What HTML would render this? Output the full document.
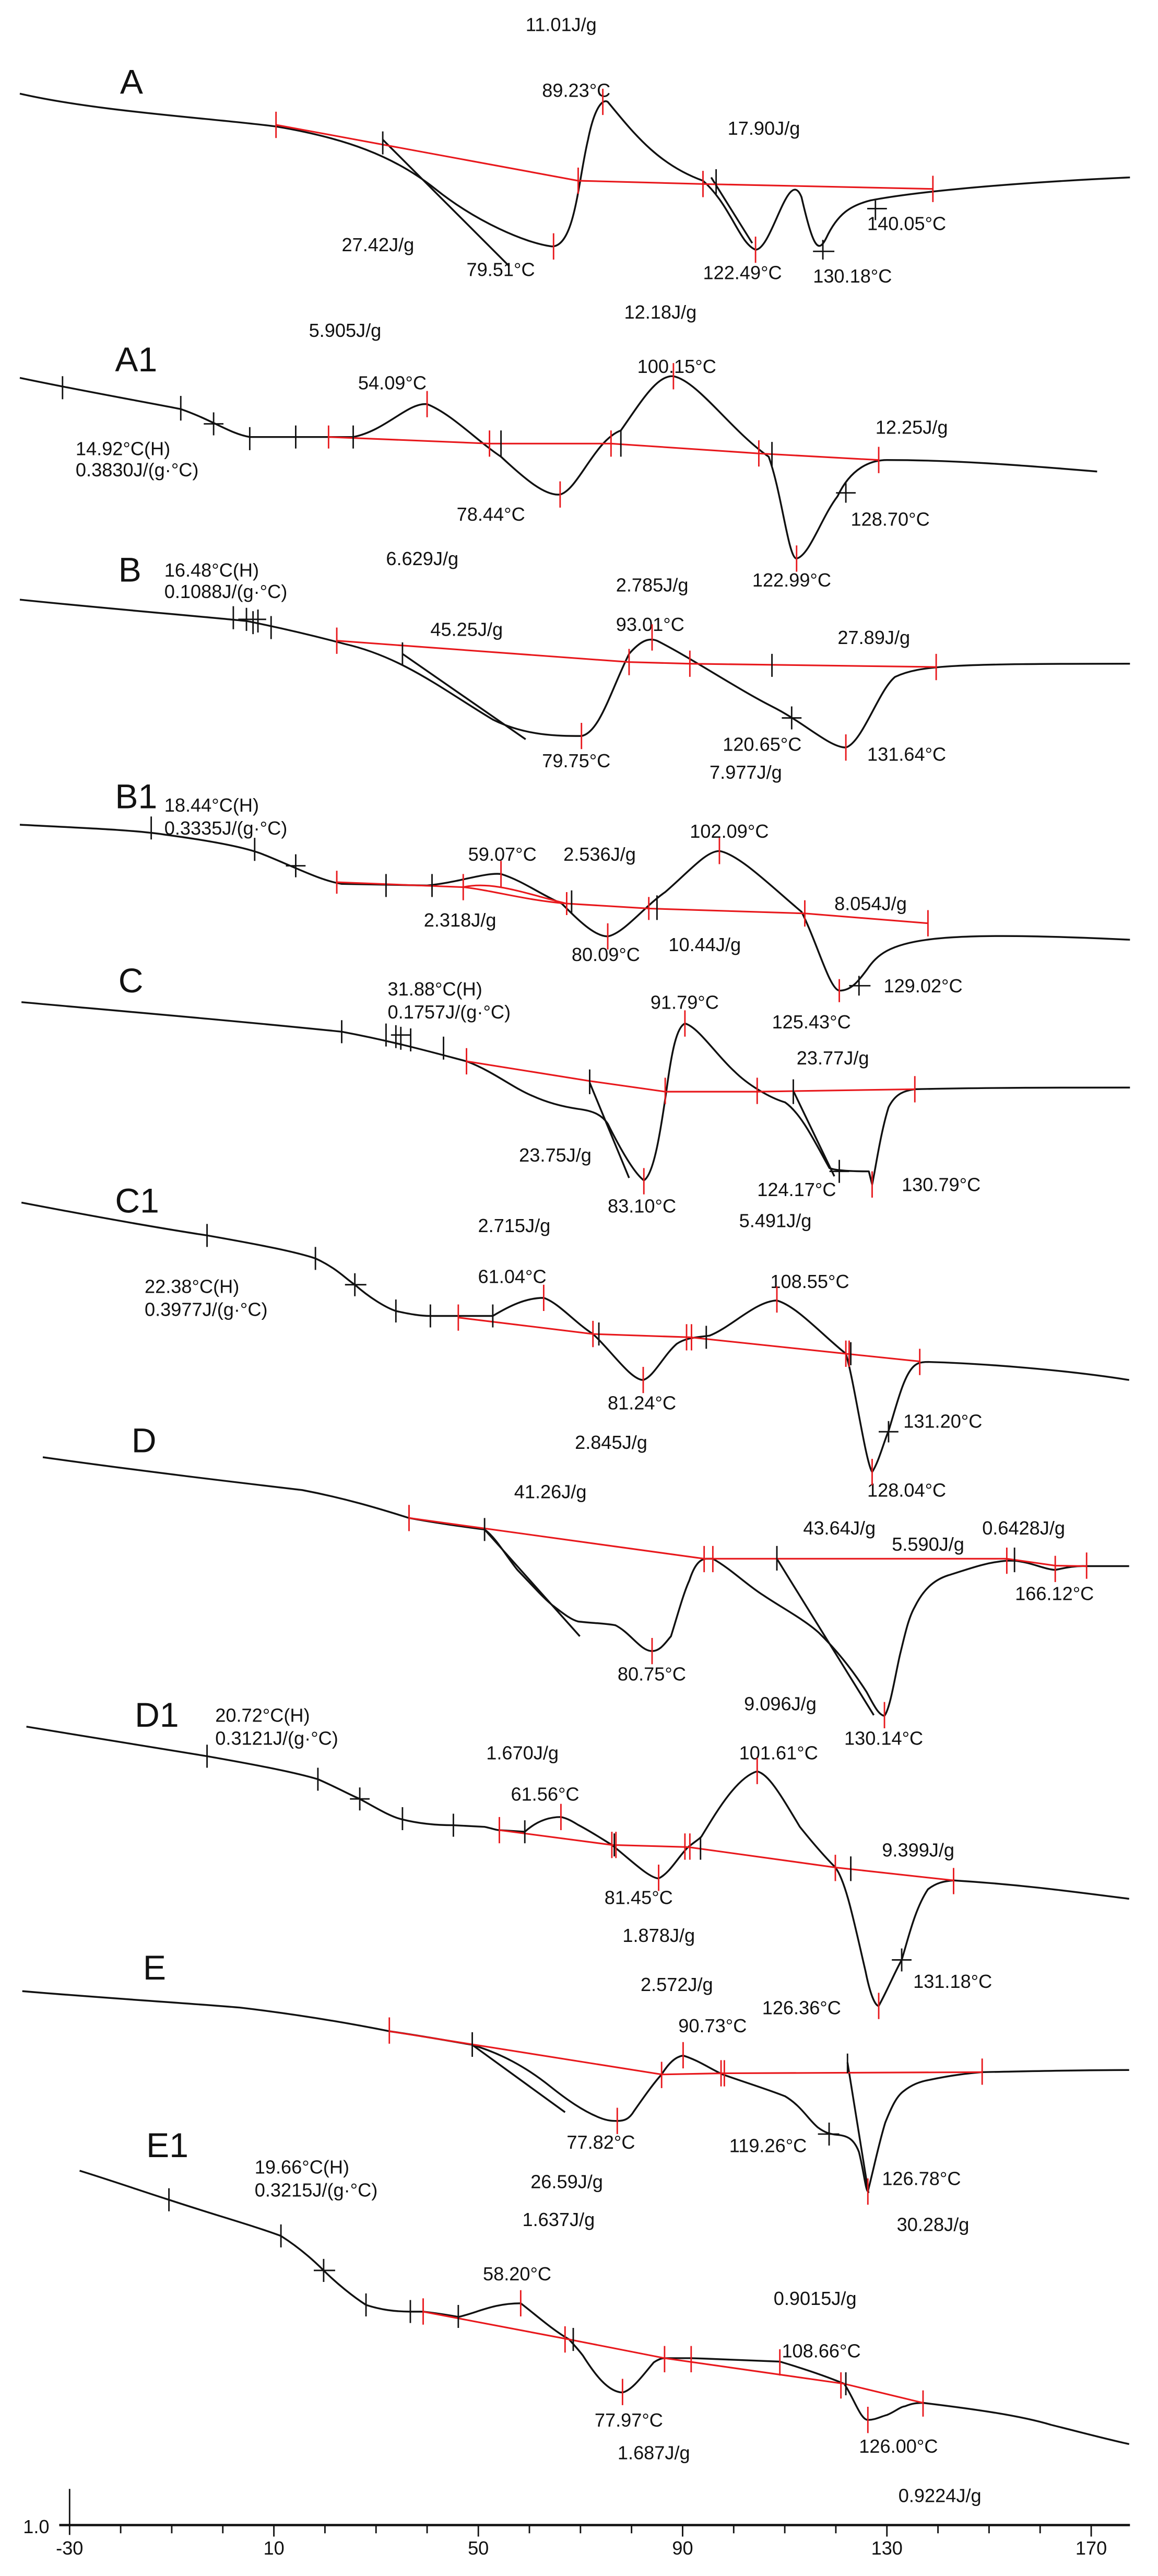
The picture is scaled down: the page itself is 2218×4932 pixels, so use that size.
<!DOCTYPE html>
<html><head><meta charset="utf-8">
<style>
html,body{margin:0;padding:0;background:#fff;}
svg{display:block;}
text{font-family:"Liberation Sans",sans-serif;font-size:11.5px;fill:#111;}
.L{font-size:21px;}
.k{fill:none;stroke:#111;stroke-width:1.1;stroke-linejoin:round;}
.r{fill:none;stroke:#e8181c;stroke-width:1;}
.t{stroke:#111;stroke-width:0.9;}
.rt{stroke:#e8181c;stroke-width:0.9;}
</style></head>
<body>
<svg width="2218" height="4932" viewBox="0 0 705 1568" xmlns="http://www.w3.org/2000/svg">

<!-- A -->
<text x="320" y="19">11.01J/g</text>
<text class="L" x="73" y="57">A</text>
<text x="330" y="59">89.23°C</text>
<text x="443" y="82">17.90J/g</text>
<text x="208" y="153">27.42J/g</text>
<text x="284" y="168">79.51°C</text>
<text x="428" y="170">122.49°C</text>
<text x="495" y="172">130.18°C</text>
<text x="528" y="140">140.05°C</text>
<path class="k" d="M12,57 C60,68 130,72 168,77 C210,84 240,95 265,115 C290,135 320,148 336,150 C350,150 352,110 358,85 C362,65 367,60 370,62 C385,80 400,100 428,110 C445,125 450,148 460,152 C470,152 480,100 488,120 C495,150 498,155 503,145 C510,130 518,125 530,122 C550,118 600,112 688,108"/>
<path class="k" d="M233,85 L310,162"/>
<path class="k" d="M433,108 L458,148"/>
<path class="r" d="M168,76 L352,110 L428,112 L568,115"/>
<g class="rt"><path d="M168,68V84M352,102V118M428,104V120M568,107V123M337,142V158M367,54V70M460,144V160"/></g>
<g class="t"><path d="M233,80V94M436,103V118M501,146V158M495,153H508M533,122V134M528,127H540"/></g>

<!-- A1 -->
<text x="188" y="205">5.905J/g</text>
<text x="380" y="194">12.18J/g</text>
<text class="L" x="70" y="226">A1</text>
<text x="218" y="237">54.09°C</text>
<text x="388" y="227">100.15°C</text>
<text x="533" y="264">12.25J/g</text>
<text x="46" y="277">14.92°C(H)</text>
<text x="46" y="290">0.3830J/(g·°C)</text>
<text x="278" y="317">78.44°C</text>
<text x="518" y="320">128.70°C</text>
<text x="235" y="344">6.629J/g</text>
<text x="458" y="357">122.99°C</text>
<text x="375" y="360">2.785J/g</text>
<path class="k" d="M12,230 C50,238 90,245 110,249 C130,256 140,264 152,266 L215,266 C235,262 248,245 260,246 C275,252 290,268 305,278 C320,292 332,302 341,301 C352,298 362,268 378,262 C390,245 400,228 410,229 C425,232 445,262 468,278 C476,300 480,340 485,340 C493,338 500,315 510,302 C518,285 530,280 540,280 C580,280 620,283 668,287"/>
<path class="r" d="M200,266 L298,270 L372,270 L462,276 L535,280"/>
<g class="rt"><path d="M200,259V273M260,238V254M298,262V278M372,262V278M410,221V237M462,268V284M535,272V288M341,293V309M485,332V348"/></g>
<g class="t"><path d="M38,229V243M110,241V256M130,251V265M124,258H136M152,260V274M180,259V273M215,259V273M305,262V278M378,262V278M470,269V284M515,294V306M509,300H521"/></g>

<!-- B -->
<text class="L" x="72" y="354">B</text>
<text x="100" y="351">16.48°C(H)</text>
<text x="100" y="364">0.1088J/(g·°C)</text>
<text x="262" y="387">45.25J/g</text>
<text x="375" y="384">93.01°C</text>
<text x="510" y="392">27.89J/g</text>
<text x="330" y="467">79.75°C</text>
<text x="440" y="457">120.65°C</text>
<text x="528" y="463">131.64°C</text>
<text x="432" y="474">7.977J/g</text>
<path class="k" d="M12,365 C60,370 120,375 150,378 C175,383 195,388 210,392 C245,400 270,420 300,438 C320,448 340,448 354,448 C365,446 372,420 383,398 C390,390 395,388 400,390 C420,400 450,420 470,430 C490,440 505,455 515,455 C525,452 535,420 545,412 C560,405 580,404 688,404"/>
<path class="k" d="M245,398 L320,450"/>
<path class="r" d="M205,390 L383,403 L420,404 L570,406"/>
<g class="rt"><path d="M205,382V398M383,395V411M420,396V412M570,398V414M397,380V396M354,440V456M515,447V463"/></g>
<g class="t"><path d="M142,369V383M150,370V384M154,372V386M157,371V385M145,377H162M165,375V389M245,391V405M470,398V412M482,430V444M476,437H488"/></g>

<!-- B1 -->
<text class="L" x="70" y="492">B1</text>
<text x="100" y="494">18.44°C(H)</text>
<text x="100" y="508">0.3335J/(g·°C)</text>
<text x="285" y="524">59.07°C</text>
<text x="343" y="524">2.536J/g</text>
<text x="420" y="510">102.09°C</text>
<text x="258" y="564">2.318J/g</text>
<text x="508" y="554">8.054J/g</text>
<text x="348" y="585">80.09°C</text>
<text x="407" y="579">10.44J/g</text>
<text x="470" y="626">125.43°C</text>
<text x="538" y="604">129.02°C</text>
<path class="k" d="M12,502 C50,504 80,505 100,508 C130,512 150,516 160,520 C180,528 195,536 208,538 L260,539 C280,537 295,531 305,532 C318,536 330,545 342,550 C352,560 362,570 370,570 C380,568 392,552 405,543 C420,530 430,518 438,518 C450,520 470,540 488,555 C498,575 505,602 511,603 C518,603 522,598 528,590 C540,572 560,566 688,572"/>
<path class="r" d="M205,537 L282,540 C300,542 320,548 345,550 L395,553 L490,556 L565,562"/>
<path class="r" d="M282,540 C300,536 320,544 345,550"/>
<g class="rt"><path d="M205,530V544M282,532V548M305,524V540M345,543V557M395,546V560M438,510V526M490,548V564M565,554V570M370,562V578M511,596V610"/></g>
<g class="t"><path d="M92,497V511M155,510V524M180,520V534M174,527H186M235,532V546M263,532V546M348,542V556M400,545V560M523,594V606M517,600H530"/></g>

<!-- C -->
<text class="L" x="72" y="604">C</text>
<text x="236" y="606">31.88°C(H)</text>
<text x="236" y="620">0.1757J/(g·°C)</text>
<text x="396" y="614">91.79°C</text>
<text x="485" y="648">23.77J/g</text>
<text x="316" y="707">23.75J/g</text>
<text x="370" y="738">83.10°C</text>
<text x="461" y="728">124.17°C</text>
<text x="549" y="725">130.79°C</text>
<text x="450" y="747">5.491J/g</text>
<path class="k" d="M13,610 C80,616 150,622 208,628 C240,634 265,641 284,646 C300,652 312,662 324,667 C335,672 345,674 352,675 C360,676 366,678 370,684 C378,700 386,714 392,718.5 C398,715 402,690 406,662 C409,640 412,625 417,623 C425,625 436,642 447,652 C455,660 468,668 478,671 C488,678 496,695 505,711 C510,713 525,713 529,713 L531,721 C533,712 536,690 541,674 C545,666 550,664 557,663 C600,662 650,662 688,662"/>
<path class="k" d="M359,659 L383,717"/>
<path class="k" d="M483,664 L508,716"/>
<path class="r" d="M284,646 L359,658 L405,664.5 L461,664.5 L557,663"/>
<g class="rt"><path d="M284,638V654M405,656V672M461,656V672M557,655V671M417,615V631M392,711V727M531,713V729"/></g>
<g class="t"><path d="M208,621V635M235,623V637M241,624V638M244,625V639M238,630H250M250,626V640M270,631V645M359,651V666M483,657V672M511,706V720M505,713H517"/></g>

<!-- C1 -->
<text class="L" x="70" y="738">C1</text>
<text x="291" y="750">2.715J/g</text>
<text x="88" y="787">22.38°C(H)</text>
<text x="88" y="801">0.3977J/(g·°C)</text>
<text x="291" y="781">61.04°C</text>
<text x="469" y="784">108.55°C</text>
<text x="370" y="858">81.24°C</text>
<text x="550" y="869">131.20°C</text>
<text x="350" y="882">2.845J/g</text>
<text x="528" y="911">128.04°C</text>
<path class="k" d="M13,732 C60,741 100,748 126,752 C160,758 180,762 192,766 C205,772 210,778 216,782 C225,790 235,796 241,798 C250,800 256,801 262,801 L300,801 C310,795 320,790 331,790 C340,793 350,805 361,812 C372,822 384,840 391.6,840 C398,838 404,825 412,818 C418,814 425,814 432,813 C445,808 460,792 473,791.6 C485,795 500,812 515,824 C520,840 527,890 531,896 C535,890 538,878 541,871 C546,855 550,838 556,832 C558,830 560,829 565,829 C600,830 650,834 687.5,840"/>
<path class="r" d="M279,802 L361,812 L420,814 L515,824 L560,828.7"/>
<g class="rt"><path d="M279,794V810M331,782V798M361,804V820M418,806V822M421,806V822M473,783V799M515,816V832M517,816V832M560,821V837M391.6,832V848M531,888V904"/></g>
<g class="t"><path d="M126,745V759M192,759V773M216,775V789M210,782H223M241,791V805M262,794V808M300,794V808M364.6,805V819M430,807V821M518,817V831M541,865V878M535,871.5H547"/></g>

<!-- D -->
<text class="L" x="80" y="884">D</text>
<text x="313" y="912">41.26J/g</text>
<text x="489" y="934">43.64J/g</text>
<text x="543" y="944">5.590J/g</text>
<text x="598" y="934">0.6428J/g</text>
<text x="618" y="974">166.12°C</text>
<text x="376" y="1023">80.75°C</text>
<text x="453" y="1041">9.096J/g</text>
<text x="514" y="1062">130.14°C</text>
<path class="k" d="M26,887 C90,896 150,903 184,907 C210,912 230,918 249,924 C265,927 280,929 295,931 C302,936 308,947 315,955.6 C325,966 332,974 337.5,978 C344,983 348,986 352,987 C360,988 368,988 374.7,989.3 C384,994 390,1005 397,1005 C402,1005 405,1000 408.5,996 C412,985 416,970 419.7,962 C422,955 425,949 430,948.8 L434,948.8 C445,955 455,965 464.7,971 C475,978 490,986 498.5,993.8 C510,1005 520,1018 527.7,1030 C532,1038 535,1044 538.5,1044.4 C542,1040 545,1020 548,1007 C551,995 553,985 557,978 C562,968 568,962 577,959 C590,955 600,951 613,950 L617.7,950 C628,951 635,955 642.5,955.6 C650,954 655,953 661.6,953.3 L687.5,953.3"/>
<path class="k" d="M295,931 L353,996"/>
<path class="k" d="M473,948.8 L532,1044"/>
<path class="r" d="M249,924 L428.7,948.8 L613,948.8 L642.5,953 L661.6,953.3"/>
<g class="rt"><path d="M249,916V932M428.7,941V957M434,941V957M613,942V958M642.5,947V963M661.6,945V961M397,997V1013M538.5,1036V1052"/></g>
<g class="t"><path d="M295,924V938M473,941V956M617.7,942V957"/></g>

<!-- D1 -->
<text class="L" x="82" y="1051">D1</text>
<text x="131" y="1048">20.72°C(H)</text>
<text x="131" y="1062">0.3121J/(g·°C)</text>
<text x="296" y="1071">1.670J/g</text>
<text x="311" y="1096">61.56°C</text>
<text x="450" y="1071">101.61°C</text>
<text x="537" y="1130">9.399J/g</text>
<text x="368" y="1159">81.45°C</text>
<text x="379" y="1182">1.878J/g</text>
<text x="390" y="1212">2.572J/g</text>
<text x="464" y="1226">126.36°C</text>
<text x="556" y="1210">131.18°C</text>
<path class="k" d="M16,1051 C60,1058 100,1065 126,1069 C160,1075 180,1079 193.5,1083 C205,1088 212,1092 219,1095 C230,1101 238,1106 245,1107.5 C255,1110 265,1111 276,1111 L295,1112 C300,1113 302,1114 304,1114 L319.5,1115 C325,1110 332,1106 341.5,1106 C346,1107 349,1109 352,1110.8 C360,1115 366,1119 372.5,1123 C385,1133 395,1143 401,1143.4 C408,1140 413,1130 419,1124.3 C423,1121 425,1120 427,1118 C435,1105 448,1082 461,1078.2 C468,1080 475,1092 487,1112 C495,1122 502,1130 508.6,1136.7 C515,1145 520,1170 527,1200 C530,1215 533,1221 535,1221 C540,1212 545,1200 549,1193 C553,1180 557,1162 565,1150 C570,1146 575,1145 580.6,1144.6 C620,1147 650,1151 687.5,1155.8"/>
<path class="r" d="M304,1114 L372.5,1123 L419,1124.3 L508.6,1136.7 L580.6,1144.6"/>
<g class="rt"><path d="M304,1106V1122M341.5,1098V1114M372.5,1115V1131M375,1115V1131M417,1116V1132M420,1116V1132M461,1070V1086M508.6,1129V1145M580.6,1137V1153M401,1135V1151M535,1213V1229"/></g>
<g class="t"><path d="M126,1062V1076M193.5,1076V1090M219,1088V1102M213,1095H225M245,1100V1114M276,1104V1118M319.5,1108V1122M374,1116V1130M426.5,1118V1132M518,1130V1145M549,1186V1200M543,1193H555"/></g>

<!-- E -->
<text class="L" x="87" y="1205">E</text>
<text x="413" y="1237">90.73°C</text>
<text x="345" y="1308">77.82°C</text>
<text x="444" y="1310">119.26°C</text>
<text x="537" y="1330">126.78°C</text>
<text x="546" y="1358">30.28J/g</text>
<path class="k" d="M13.5,1212 C60,1216 110,1219 146,1222 C180,1226 210,1231 237,1236.4 C255,1239 272,1242 287.5,1244.7 C305,1250 320,1258 335,1270 C345,1278 355,1285 365,1289 C370,1291 373,1291 375.8,1291 C380,1291 383,1290 386,1285 C393,1275 398,1268 402.8,1262.7 C407,1256 411,1252 415.9,1251.2 C425,1254 432,1259 440,1262.7 C455,1268 468,1272 478,1276 C488,1282 492,1290 498,1295 C502,1298 505,1299 510,1299.5 C516,1300 520,1302 523,1310 C526,1322 527,1333 528.4,1333.9 C532,1320 535,1305 539,1292 C543,1282 546,1276 550,1273 C555,1269 560,1267 566,1266 C580,1263 590,1262 598,1261.3 C640,1260.5 660,1260 687.5,1260"/>
<path class="k" d="M287.5,1244.7 L344,1285.7"/>
<path class="k" d="M516,1255.4 L528.8,1334.9"/>
<path class="r" d="M237,1236.4 L402.8,1262.7 L440,1262 L598,1261.3"/>
<g class="rt"><path d="M237,1228V1244M402.8,1255V1271M415.9,1243V1259M439,1254V1270M441,1254V1270M598,1253V1269M375.8,1283V1299M528.4,1326V1342"/></g>
<g class="t"><path d="M287.5,1237V1252M516,1250V1262M504.8,1292V1306M498,1299H511"/></g>

<!-- E1 -->
<text class="L" x="89" y="1313">E1</text>
<text x="155" y="1323">19.66°C(H)</text>
<text x="155" y="1337">0.3215J/(g·°C)</text>
<text x="323" y="1332">26.59J/g</text>
<text x="318" y="1355">1.637J/g</text>
<text x="294" y="1388">58.20°C</text>
<text x="471" y="1403">0.9015J/g</text>
<text x="476" y="1435">108.66°C</text>
<text x="362" y="1477">77.97°C</text>
<text x="376" y="1497">1.687J/g</text>
<text x="523" y="1493">126.00°C</text>
<text x="547" y="1523">0.9224J/g</text>
<path class="k" d="M48.4,1321.3 C70,1328 90,1335 102.8,1339 C130,1348 155,1355 171,1361 C182,1368 190,1375 197,1382 C205,1390 215,1398 222.8,1403 C232,1406 240,1407 249.8,1407.1 L257.6,1407.1 C265,1408 272,1409 279,1410.3 C290,1408 300,1402 317,1402 C325,1408 336,1418 346.5,1424 C350,1428 352,1430 355,1434 C362,1445 370,1456 379,1456.3 C385,1455 392,1445 398,1438 C401,1436 403,1435.4 404.6,1435.4 L420.8,1435.4 C440,1436 460,1437 474.8,1437.5 C490,1442 502,1446 514,1451 C520,1460 524,1473 528.4,1473 C533,1473 536,1471 540,1470 C545,1468 548,1465 551,1464.7 C555,1463 558,1462.6 562,1462.6 C590,1466 620,1470 640,1476 C660,1481 675,1485 687.5,1487.7"/>
<path class="r" d="M257.6,1407.1 L346.5,1424 L404.6,1435.4 L514,1451 L562,1462.6"/>
<g class="rt"><path d="M257.6,1399V1415M317,1394V1410M344,1416V1432M404.6,1428V1444M420.8,1428V1444M474.8,1430V1446M512,1444V1460M562,1455V1471M379,1448V1464M528.4,1465V1481"/></g>
<g class="t"><path d="M102.8,1332V1346M171,1354V1368M197,1375V1389M191,1382H204M222.8,1396V1410M249.8,1400V1414M279,1403V1417M349,1417V1431M515,1444V1458"/></g>

<!-- Axis -->
<path d="M36,1537 H688" stroke="#111" stroke-width="1.4"/>
<path d="M42.3,1515 V1543" stroke="#111" stroke-width="0.9"/>
<g class="t">
<path d="M73.4,1537V1542M104.5,1537V1542M135.6,1537V1542M166.7,1537V1544M197.8,1537V1542M228.9,1537V1542M260,1537V1542M291.2,1537V1544M322.3,1537V1542M353.4,1537V1542M384.5,1537V1542M415.6,1537V1544M446.7,1537V1542M477.8,1537V1542M508.9,1537V1542M540,1537V1544M571.1,1537V1542M602.2,1537V1542M633.3,1537V1542M664.4,1537V1544"/>
</g>
<text x="14" y="1542">1.0</text>
<text x="42.3" y="1555" text-anchor="middle">-30</text>
<text x="166.7" y="1555" text-anchor="middle">10</text>
<text x="291.2" y="1555" text-anchor="middle">50</text>
<text x="415.6" y="1555" text-anchor="middle">90</text>
<text x="540" y="1555" text-anchor="middle">130</text>
<text x="664.4" y="1555" text-anchor="middle">170</text>
</svg>
</body></html>
